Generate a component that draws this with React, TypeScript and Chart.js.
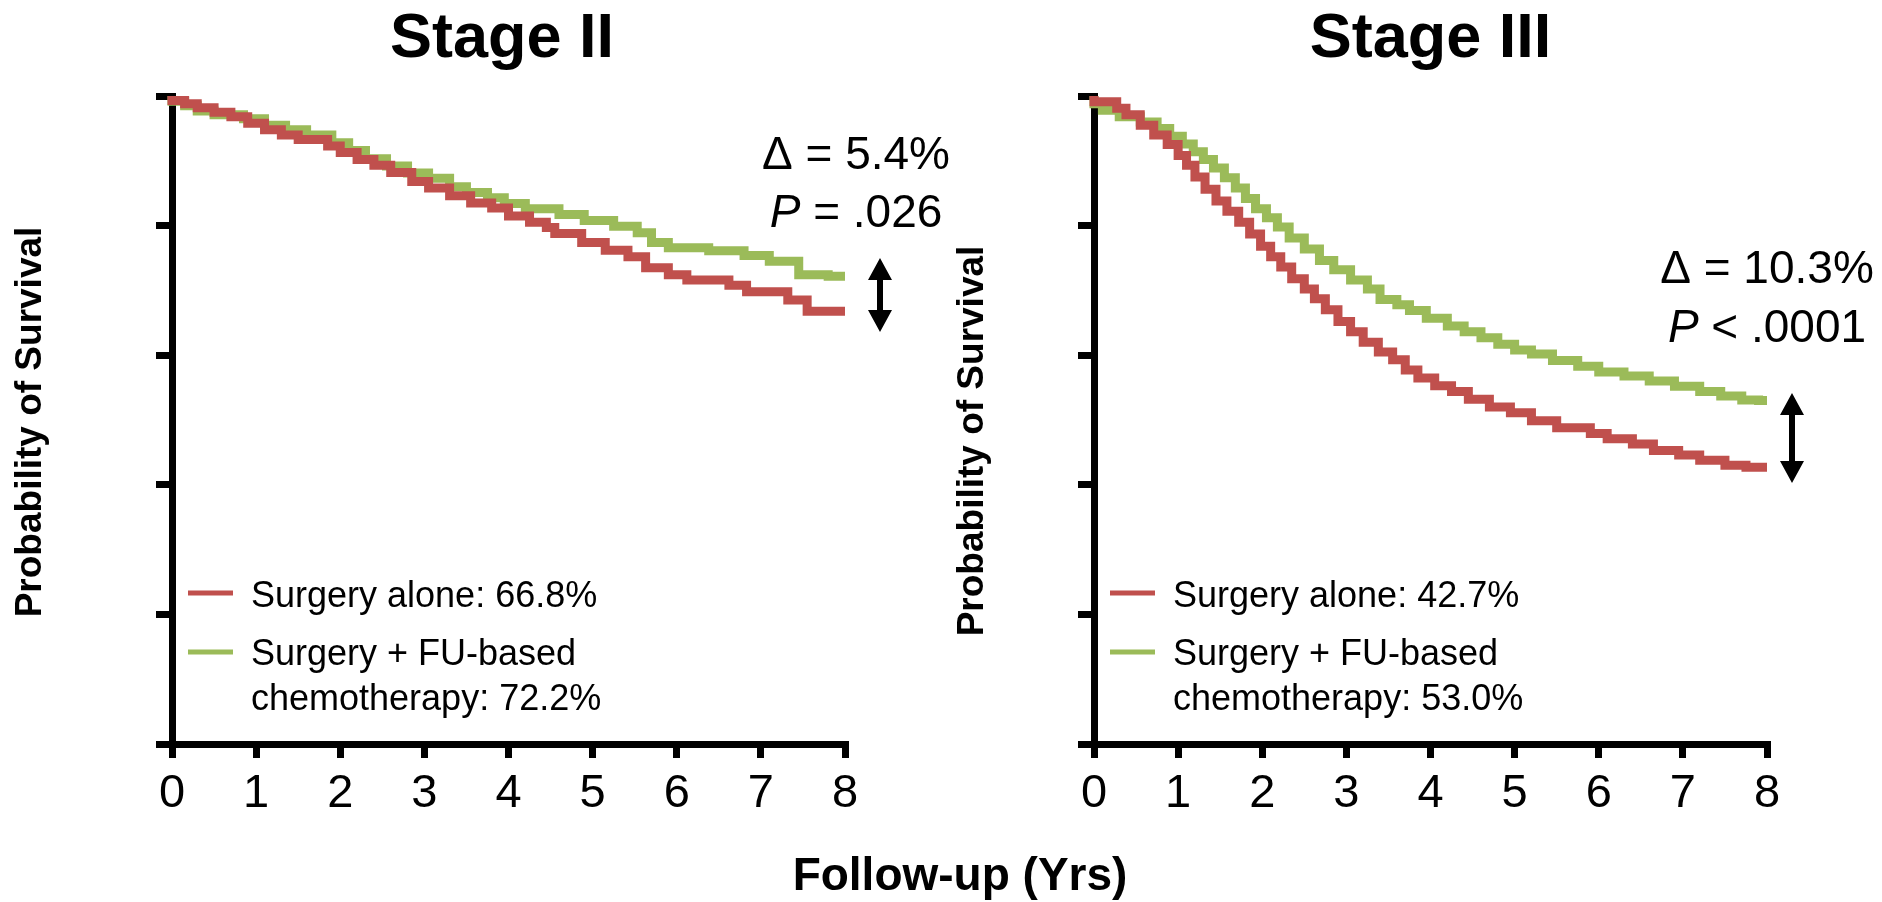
import React, { useEffect, useRef } from "react";
import { Chart, registerables } from "chart.js";

Chart.register(...registerables);

const FONT = '"Liberation Sans", Arial, Helvetica, sans-serif';
const RED = "#C0504D";
const GREEN = "#9BBB59";

// ---------- data ----------
const xTickValues = [0, 1, 2, 3, 4, 5, 6, 7, 8];
const yTickValues = [0, 0.2, 0.4, 0.6, 0.8, 1.0];

const panelTitles = ["Stage II", "Stage III"];
const yAxisTitle = "Probability of Survival";
const xAxisTitle = "Follow-up (Yrs)";
const legendAloneLabels = ["Surgery alone: 66.8%", "Surgery alone: 42.7%"];
const legendChemoLine1 = "Surgery + FU-based";
const legendChemoLine2 = ["chemotherapy: 72.2%", "chemotherapy: 53.0%"];
const deltaLabels = ["\u0394 = 5.4%", "\u0394 = 10.3%"];
const pOperators = ["=", "<"];
const pValues = [".026", ".0001"];

// Stage II - surgery alone
const stage2AloneTimes = [0, 0.15, 0.3, 0.5, 0.7, 0.9, 1.1, 1.3, 1.5, 1.85, 2.0, 2.2, 2.4, 2.6, 2.85, 3.05, 3.3, 3.55, 3.8, 4.0, 4.25, 4.45, 4.55, 4.87, 5.15, 5.42, 5.63, 5.9, 6.12, 6.62, 6.83, 7.32, 7.55, 7.76, 8.0];
const stage2AloneSurv = [1.0, 0.993, 0.988, 0.982, 0.975, 0.968, 0.958, 0.948, 0.94, 0.933, 0.923, 0.913, 0.902, 0.893, 0.882, 0.868, 0.858, 0.846, 0.835, 0.827, 0.815, 0.805, 0.797, 0.788, 0.774, 0.762, 0.752, 0.735, 0.724, 0.716, 0.708, 0.698, 0.685, 0.668, 0.668];
// Stage II - surgery + chemotherapy
const stage2ChemoTimes = [0, 0.15, 0.3, 0.5, 0.85, 1.1, 1.35, 1.6, 1.9, 2.1, 2.3, 2.55, 2.8, 3.05, 3.3, 3.5, 3.75, 3.95, 4.2, 4.6, 4.9, 5.25, 5.53, 5.7, 5.9, 6.38, 6.8, 7.1, 7.45, 7.8, 8.0];
const stage2ChemoSurv = [1.0, 0.992, 0.985, 0.977, 0.971, 0.965, 0.955, 0.948, 0.94, 0.928, 0.916, 0.903, 0.892, 0.881, 0.873, 0.86, 0.851, 0.843, 0.834, 0.826, 0.817, 0.808, 0.799, 0.789, 0.774, 0.766, 0.761, 0.754, 0.745, 0.724, 0.722];
// Stage III - surgery alone
const stage3AloneTimes = [0, 0.27, 0.38, 0.55, 0.71, 0.87, 1.0, 1.1, 1.2, 1.32, 1.45, 1.58, 1.72, 1.85, 1.98, 2.1, 2.22, 2.35, 2.5, 2.62, 2.75, 2.9, 3.05, 3.2, 3.38, 3.55, 3.7, 3.85, 4.05, 4.25, 4.45, 4.7, 4.95, 5.2, 5.5, 5.9, 6.1, 6.4, 6.65, 6.95, 7.2, 7.5, 7.75, 8.0];
const stage3AloneSurv = [1.0, 0.991, 0.981, 0.971, 0.955, 0.94, 0.925, 0.908, 0.893, 0.875, 0.856, 0.838, 0.822, 0.805, 0.787, 0.768, 0.752, 0.736, 0.718, 0.702, 0.687, 0.67, 0.652, 0.636, 0.62, 0.605, 0.593, 0.577, 0.565, 0.553, 0.544, 0.532, 0.52, 0.511, 0.499, 0.488, 0.479, 0.471, 0.463, 0.453, 0.446, 0.438, 0.43, 0.427];
// Stage III - surgery + chemotherapy
const stage3ChemoTimes = [0, 0.1, 0.3, 0.55, 0.75, 0.9, 1.05, 1.18, 1.3, 1.42, 1.55, 1.68, 1.8, 1.92, 2.05, 2.18, 2.32, 2.5, 2.68, 2.85, 3.05, 3.25, 3.4, 3.6, 3.75, 3.95, 4.2, 4.4, 4.6, 4.8, 5.0, 5.2, 5.45, 5.75, 6.0, 6.3, 6.6, 6.9, 7.2, 7.45, 7.7, 7.9, 8.0];
const stage3ChemoSurv = [1.0, 0.988, 0.978, 0.968, 0.96, 0.95, 0.938, 0.926, 0.914, 0.902, 0.889, 0.874, 0.858, 0.842, 0.826, 0.812, 0.798, 0.781, 0.764, 0.746, 0.732, 0.716, 0.702, 0.686, 0.678, 0.669, 0.657, 0.645, 0.636, 0.627, 0.617, 0.608, 0.602, 0.592, 0.583, 0.574, 0.568, 0.56, 0.552, 0.544, 0.537, 0.531, 0.53];

const seriesByPanel = [
  { aloneT: stage2AloneTimes, aloneS: stage2AloneSurv, chemoT: stage2ChemoTimes, chemoS: stage2ChemoSurv },
  { aloneT: stage3AloneTimes, aloneS: stage3AloneSurv, chemoT: stage3ChemoTimes, chemoS: stage3ChemoSurv },
];

// ---------- layout / styles ----------
const CANVAS_H = 902;
const CHART_LEFT = 172;
const CHART_TOP = 96;
const X_AXIS_HEIGHT = 158;
const layouts = [
  { canvasLeft: 0, canvasWidth: 980, padRight: 135, titleDx: -6.5, yTitleX: 31, yTitleY: 422, annX: 856, annY: [169, 227], arrowX: 880, arrowY: [258, 332] },
  { canvasLeft: 922, canvasWidth: 960, padRight: 115, titleDx: 0, yTitleX: 51, yTitleY: 441, annX: 845, annY: [283, 342], arrowX: 870, arrowY: [393, 483] },
];
const legendBaselines = [607, 665, 710];

function toPoints(t: number[], s: number[]) {
  return t.map((x, i) => ({ x, y: s[i] }));
}

function drawDoubleArrow(ctx: CanvasRenderingContext2D, x: number, y1: number, y2: number) {
  const headW = 24, headL = 22, shaftW = 6;
  ctx.beginPath();
  ctx.moveTo(x, y1);
  ctx.lineTo(x + headW / 2, y1 + headL);
  ctx.lineTo(x + shaftW / 2, y1 + headL);
  ctx.lineTo(x + shaftW / 2, y2 - headL);
  ctx.lineTo(x + headW / 2, y2 - headL);
  ctx.lineTo(x, y2);
  ctx.lineTo(x - headW / 2, y2 - headL);
  ctx.lineTo(x - shaftW / 2, y2 - headL);
  ctx.lineTo(x - shaftW / 2, y1 + headL);
  ctx.lineTo(x - headW / 2, y1 + headL);
  ctx.closePath();
  ctx.fill();
}

function Panel({ index }: { index: number }) {
  const ref = useRef<HTMLCanvasElement>(null);
  const L = layouts[index];

  useEffect(() => {
    const canvas = ref.current;
    if (!canvas) return;
    const series = seriesByPanel[index];

    const overlay = {
      id: "overlay" + index,
      afterDraw(chart: any) {
        const { ctx, chartArea: ca } = chart;
        ctx.save();
        ctx.fillStyle = "#000";
        ctx.textBaseline = "alphabetic";

        // panel title
        ctx.font = `bold 63px ${FONT}`;
        ctx.textAlign = "center";
        ctx.fillText(panelTitles[index], (ca.left + ca.right) / 2 + L.titleDx, 57);

        // y axis title (rotated)
        ctx.save();
        ctx.translate(L.yTitleX, L.yTitleY);
        ctx.rotate(-Math.PI / 2);
        ctx.font = `bold 37px ${FONT}`;
        ctx.textAlign = "center";
        ctx.textBaseline = "middle";
        ctx.fillText(yAxisTitle, 0, 0);
        ctx.restore();

        // delta / P annotation
        ctx.textAlign = "center";
        ctx.font = `46px ${FONT}`;
        ctx.fillText(deltaLabels[index], L.annX, L.annY[0]);
        const italic = `italic 46px ${FONT}`;
        const normal = `46px ${FONT}`;
        ctx.font = italic;
        const wP = ctx.measureText("P").width;
        const rest = ` ${pOperators[index]} ${pValues[index]}`;
        ctx.font = normal;
        const wR = ctx.measureText(rest).width;
        const x0 = L.annX - (wP + wR) / 2;
        ctx.textAlign = "left";
        ctx.font = italic;
        ctx.fillText("P", x0, L.annY[1]);
        ctx.font = normal;
        ctx.fillText(rest, x0 + wP, L.annY[1]);

        // double arrow
        drawDoubleArrow(ctx, L.arrowX, L.arrowY[0], L.arrowY[1]);

        // legend
        const sx0 = ca.left + 16, sx1 = ca.left + 61, tx = ca.left + 79;
        ctx.lineWidth = 5;
        ctx.lineCap = "butt";
        ctx.strokeStyle = RED;
        ctx.beginPath();
        ctx.moveTo(sx0, legendBaselines[0] - 14);
        ctx.lineTo(sx1, legendBaselines[0] - 14);
        ctx.stroke();
        ctx.strokeStyle = GREEN;
        ctx.beginPath();
        ctx.moveTo(sx0, legendBaselines[1] - 13);
        ctx.lineTo(sx1, legendBaselines[1] - 13);
        ctx.stroke();
        ctx.font = `36px ${FONT}`;
        ctx.fillStyle = "#000";
        ctx.fillText(legendAloneLabels[index], tx, legendBaselines[0]);
        ctx.fillText(legendChemoLine1, tx, legendBaselines[1]);
        ctx.fillText(legendChemoLine2[index], tx, legendBaselines[2]);
        ctx.restore();
      },
    };

    const chart = new Chart(canvas, {
      type: "line",
      data: {
        datasets: [
          {
            label: "Surgery alone",
            data: toPoints(series.aloneT, series.aloneS),
            borderColor: RED,
            backgroundColor: RED,
            borderWidth: 9,
            stepped: "after",
            pointRadius: 0,
            fill: false,
            clip: false,
            borderJoinStyle: "miter",
            borderCapStyle: "butt",
          },
          {
            label: "Surgery + FU-based chemotherapy",
            data: toPoints(series.chemoT, series.chemoS),
            borderColor: GREEN,
            backgroundColor: GREEN,
            borderWidth: 9,
            stepped: "after",
            pointRadius: 0,
            fill: false,
            clip: false,
            borderJoinStyle: "miter",
            borderCapStyle: "butt",
          },
        ],
      } as any,
      options: {
        animation: false,
        responsive: false,
        maintainAspectRatio: false,
        devicePixelRatio: 1,
        events: [],
        layout: { padding: { left: 0, top: CHART_TOP, right: L.padRight, bottom: 0 } },
        plugins: {
          legend: { display: false },
          tooltip: { enabled: false },
          title: { display: false },
        },
        scales: {
          x: {
            type: "linear",
            position: "bottom",
            min: 0,
            max: 8,
            afterBuildTicks: (s: any) => {
              s.ticks = xTickValues.map((v) => ({ value: v }));
            },
            afterFit: (s: any) => {
              s.height = X_AXIS_HEIGHT;
            },
            ticks: {
              color: "#000",
              font: { family: FONT, size: 47 },
              padding: 8,
              maxRotation: 0,
              autoSkip: false,
            },
            grid: { drawOnChartArea: false, drawTicks: true, tickLength: 14, color: "#000", lineWidth: 7 },
            border: { display: true, color: "#000", width: 7 },
          },
          y: {
            type: "linear",
            position: "left",
            min: 0,
            max: 1,
            afterBuildTicks: (s: any) => {
              s.ticks = yTickValues.map((v) => ({ value: v }));
            },
            afterFit: (s: any) => {
              s.width = CHART_LEFT;
            },
            ticks: { display: false },
            grid: { drawOnChartArea: false, drawTicks: true, tickLength: 16, color: "#000", lineWidth: 7 },
            border: { display: true, color: "#000", width: 7 },
            title: { display: false },
          },
        },
      } as any,
      plugins: [overlay],
    });
    return () => chart.destroy();
  }, [index]);

  return (
    <canvas
      ref={ref}
      width={L.canvasWidth}
      height={CANVAS_H}
      style={{ position: "absolute", left: L.canvasLeft, top: 0, width: L.canvasWidth, height: CANVAS_H, display: "block" }}
    />
  );
}

export default function App() {
  return (
    <div style={{ position: "fixed", left: 0, top: 0, width: 1882, height: 902, background: "#fff", overflow: "hidden" }}>
      <Panel index={0} />
      <Panel index={1} />
      <div
        style={{
          position: "absolute",
          left: 760,
          top: 851,
          width: 400,
          textAlign: "center",
          fontFamily: FONT,
          fontWeight: "bold",
          fontSize: 46,
          lineHeight: "46px",
          color: "#000",
          whiteSpace: "nowrap",
        }}
      >
        {xAxisTitle}
      </div>
    </div>
  );
}
